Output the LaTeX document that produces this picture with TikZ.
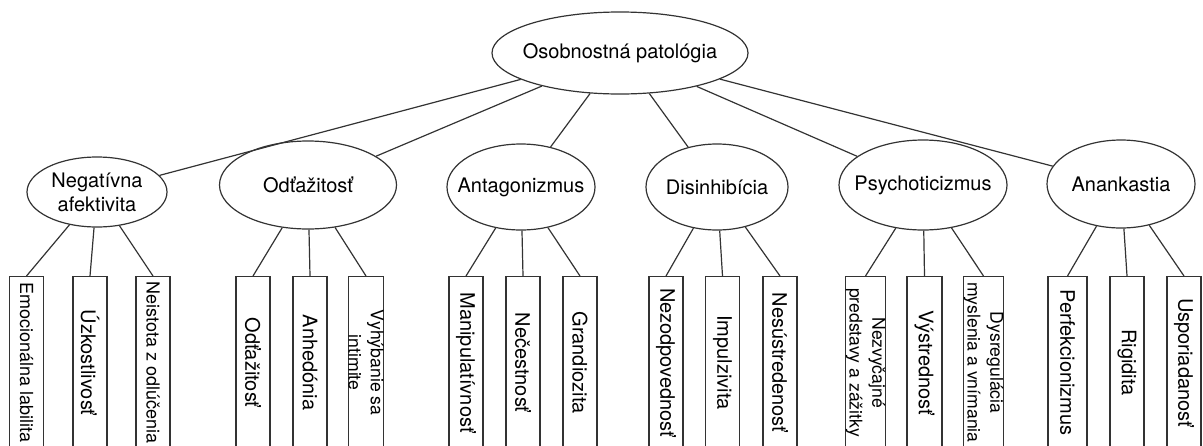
\documentclass[tikz,border=0pt]{standalone}
\usepackage{fontspec}
\setmainfont{TeX Gyre Heros}
\usepackage{graphicx}
\usetikzlibrary{shapes.geometric}

\begin{document}
\begin{tikzpicture}[x=0.5pt,y=-0.5pt,line width=0.6pt,
  trait/.style={draw=black!80,ellipse,inner xsep=-15pt,inner ysep=-5pt,align=center},
  facet/.style={draw=black!80,rectangle,anchor=north,inner sep=0pt,minimum width=17pt,minimum height=86pt},
  link/.style={draw=black!80}]
\clip (0,0) rectangle (1203,445);
% top
\node[trait,minimum width=128pt,minimum height=41pt] (pat) at (620,53) {Osobnostná patológia};
% domains
\node[trait,minimum width=70pt,minimum height=35pt] (neg) at (97,192) {Negatívna\\afektivita};
\node[trait,minimum width=88.5pt,minimum height=44pt] (odt) at (308,185) {Odťažitosť};
\node[trait,minimum width=74pt,minimum height=43pt] (ant) at (521,187) {Antagonizmus};
\node[trait,minimum width=71pt,minimum height=43pt] (dis) at (717,187) {Disinhibícia};
\node[trait,minimum width=84pt,minimum height=45pt] (psy) at (923,185) {Psychoticizmus};
\node[trait,minimum width=74pt,minimum height=44pt] (ana) at (1121,184) {Anankastia};
% facets
\node[facet] (emo) at (26.5,276) {\rotatebox{-90}{\fontsize{9}{11}\selectfont Emocionálna labilita}};
\node[facet] (uzk) at (90,276) {\rotatebox{-90}{Úzkostlivosť}};
\node[facet] (nei) at (153,276) {\rotatebox{-90}{\fontsize{9}{11}\selectfont Neistota z odlúčenia}};
\node[facet] (odz) at (253,276) {\rotatebox{-90}{Odťažitosť}};
\node[facet] (anh) at (310,276) {\rotatebox{-90}{Anhedónia}};
\node[facet] (vyh) at (366,276) {\rotatebox{-90}{\fontsize{8.8}{9}\selectfont\shortstack{Vyhýbanie sa\\intimite}}};
\node[facet] (man) at (466,276) {\rotatebox{-90}{Manipulatívnosť}};
\node[facet] (nec) at (523,276) {\rotatebox{-90}{Nečestnosť}};
\node[facet] (gra) at (580,276) {\rotatebox{-90}{Grandiozita}};
\node[facet] (nez) at (666,276) {\rotatebox{-90}{Nezodpovednosť}};
\node[facet] (imp) at (722.5,276) {\rotatebox{-90}{Impulzivita}};
\node[facet] (nes) at (780,276) {\rotatebox{-90}{Nesústredenosť}};
\node[facet,minimum width=19.5pt] (nzv) at (865.5,276) {\rotatebox{-90}{\fontsize{8.8}{9}\selectfont\shortstack{Nezvyčajné\\predstavy a zážitky}}};
\node[facet,minimum width=17.5pt] (vys) at (924.5,276) {\rotatebox{-90}{Výstrednosť}};
\node[facet,minimum width=19.5pt] (dys) at (983.5,276) {\rotatebox{-90}{\fontsize{8.8}{9}\selectfont\shortstack{Dysregulácia\\myslenia a vnímania}}};
\node[facet,minimum width=19.5pt] (per) at (1067.5,276) {\rotatebox{-90}{Perfekcionizmus}};
\node[facet] (rig) at (1127,276) {\rotatebox{-90}{Rigidita}};
\node[facet] (usp) at (1184,276) {\rotatebox{-90}{Usporiadanosť}};
% links
\draw[link] (pat) -- (neg);
\draw[link] (pat) -- (odt);
\draw[link] (pat) -- (ant);
\draw[link] (pat) -- (dis);
\draw[link] (pat) -- (psy);
\draw[link] (pat) -- (ana);
\draw[link] (neg) -- (emo.north);
\draw[link] (neg) -- (uzk.north);
\draw[link] (neg) -- (nei.north);
\draw[link] (odt) -- (odz.north);
\draw[link] (odt) -- (anh.north);
\draw[link] (odt) -- (vyh.north);
\draw[link] (ant) -- (man.north);
\draw[link] (ant) -- (nec.north);
\draw[link] (ant) -- (gra.north);
\draw[link] (dis) -- (nez.north);
\draw[link] (dis) -- (imp.north);
\draw[link] (dis) -- (nes.north);
\draw[link] (psy) -- (nzv.north);
\draw[link] (psy) -- (vys.north);
\draw[link] (psy) -- (dys.north);
\draw[link] (ana) -- (per.north);
\draw[link] (ana) -- (rig.north);
\draw[link] (ana) -- (usp.north);
\end{tikzpicture}
\end{document}
